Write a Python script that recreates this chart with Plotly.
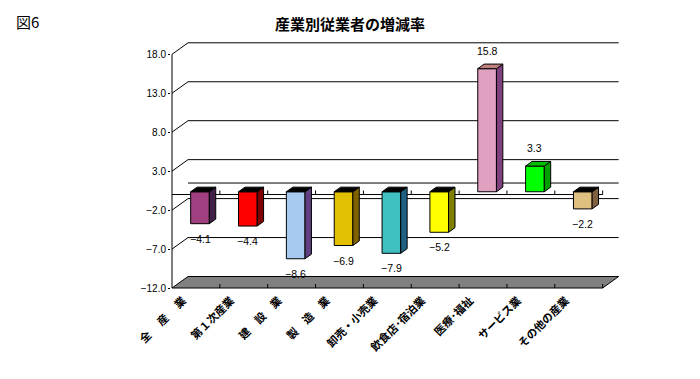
import plotly.graph_objects as go

# ---- data ----
categories = ["全　 産　 業", "第１次産業", "建　設　業", "製　造　業", "卸売・小売業",
              "飲食店･宿泊業", "医療･福祉", "サービス業", "その他の産業"]
values = [-4.1, -4.4, -8.6, -6.9, -7.9, -5.2, 15.8, 3.3, -2.2]
y_ticks = [-12, -7, -2, 3, 8, 13, 18]
title_text = "産業別従業者の増減率"
fig_label = "図6"

# ---- style ----
front_cols = ["#A04080", "#FF0000", "#A6CAF0", "#E0C000", "#40C0C0",
              "#FFFF00", "#E0A0C0", "#00FF00", "#E0C080"]
side_cols = ["#402048", "#800000", "#604080", "#806000", "#206080",
             "#808000", "#804080", "#00A000", "#806040"]
top_pos_cols = ["#000000"] * 6 + ["#C08080", "#00C000", "#000000"]

PXC = 47.85   # px per category unit
PXV = 7.79    # px per value unit
DX = 16 / PXC  # depth offset in category units
DY = 11.5 / PXV  # depth offset in value units
VMIN = -12
VMAX = 18
N = len(categories)

def P(c, v, d):
    return c + DX * d, v + DY * d

L, R, T, B = 171, 628, 36, 291
x_range = [(L - 172) / PXC, (R - 172) / PXC]
y_range = [VMIN - (B - 288) / PXV, VMIN + (288 - T) / PXV]

fig = go.Figure()

def poly(pts, fill, lw=1, lc="black"):
    xs = [p[0] for p in pts] + [pts[0][0]]
    ys = [p[1] for p in pts] + [pts[0][1]]
    fig.add_trace(go.Scatter(x=xs, y=ys, mode="lines", fill="toself" if fill else None,
                             fillcolor=fill, line=dict(color=lc, width=lw),
                             hoverinfo="skip", showlegend=False))

def seg(p1, p2, lw=1):
    fig.add_trace(go.Scatter(x=[p1[0], p2[0]], y=[p1[1], p2[1]], mode="lines",
                             line=dict(color="black", width=lw),
                             hoverinfo="skip", showlegend=False))

# back wall gridlines and left-side diagonals
for t in y_ticks[1:]:
    seg(P(0, t, 0), P(0, t, 1))
    seg(P(0, t, 1), P(N, t, 1))

# floor
poly([P(0, VMIN, 0), P(N, VMIN, 0), P(N, VMIN, 1), P(0, VMIN, 1)], "#808080")
for i in range(1, N + 1):
    seg(P(i, VMIN, 0), (i, VMIN + 4 / PXV))

# zero plane lines
seg(P(0, 0, 1), P(N, 0, 1))
seg(P(0, 0, 0), P(N, 0, 0))
for i in range(1, N + 1):
    seg((i, 0), (i, 4 / PXV))

# left axis line
seg(P(0, VMIN, 0), P(0, VMAX, 0))

# bars
d0, d1 = 0.24, 0.64
c0f, c1f = 0.31, 0.70
for i, v in enumerate(values):
    c0, c1 = i + c0f, i + c1f
    vb, vt = min(0, v), max(0, v)
    poly([P(c0, vb, d0), P(c1, vb, d0), P(c1, vt, d0), P(c0, vt, d0)], front_cols[i])
    poly([P(c1, vb, d0), P(c1, vb, d1), P(c1, vt, d1), P(c1, vt, d0)], side_cols[i])
    poly([P(c0, vt, d0), P(c1, vt, d0), P(c1, vt, d1), P(c0, vt, d1)], top_pos_cols[i])
    xl, yl = P((c0 + c1) / 2, v, d0)
    txt = ("%.1f" % v).replace("-", "−")
    fig.add_annotation(x=xl, y=yl, text=txt, showarrow=False,
                       yshift=18 if v > 0 else -15,
                       font=dict(family="Liberation Sans", size=10.5, color="black"))

fig.add_annotation(xref="paper", yref="paper", x=(350 - L) / (R - L), y=(379 - 24 - (379 - B)) / (B - T),
                   text=title_text, showarrow=False, xanchor="center", yanchor="middle",
                   font=dict(family="Noto Sans CJK JP", size=15, color="black", weight="bold"))
fig.add_annotation(xref="paper", yref="paper", x=(14 - L) / (R - L), y=(379 - 22 - (379 - B)) / (B - T),
                   text=fig_label, showarrow=False, xanchor="left", yanchor="middle",
                   font=dict(family="Noto Sans CJK JP", size=15, color="black"))

fig.update_layout(
    width=700, height=379,
    margin=dict(l=L, r=700 - R, t=T, b=379 - B, pad=0, autoexpand=False),
    paper_bgcolor="white", plot_bgcolor="white",
    showlegend=False,
    xaxis=dict(range=x_range, showgrid=False, zeroline=False, showline=False, automargin=False,
               tickmode="array", tickvals=[i + 0.23 for i in range(N)], ticktext=categories,
               tickangle=-45, ticks="",
               tickfont=dict(family="Noto Sans CJK JP", size=11, color="black", weight="bold")),
    yaxis=dict(range=y_range, showgrid=False, zeroline=False, showline=False, automargin=False,
               tickmode="array", tickvals=y_ticks, tickformat=".1f",
               ticks="outside", ticklen=2, tickcolor="black",
               tickfont=dict(family="Liberation Sans", size=10, color="black")),
)

fig.write_html("out.html", config={"displayModeBar": False, "staticPlot": True},
               post_script="document.body.style.margin='0';")
